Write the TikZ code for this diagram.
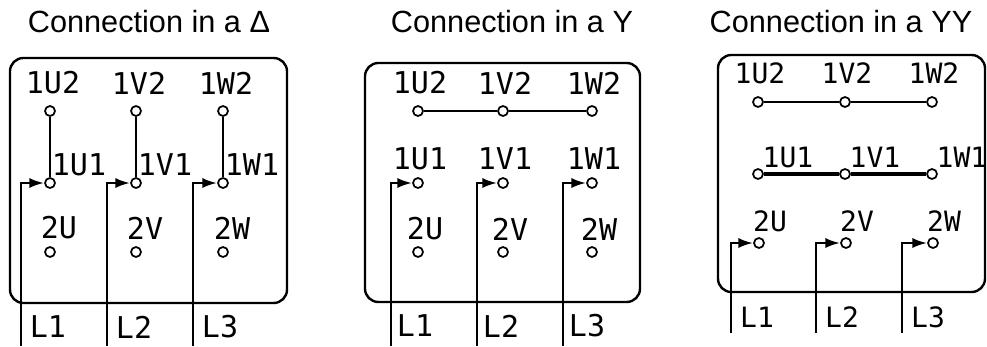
\documentclass[tikz,border=0pt]{standalone}
\usepackage{fontspec}
\setmainfont{Liberation Sans}
\newfontfamily\techfont{DejaVu Sans Mono}
\usetikzlibrary{arrows.meta}
\begin{document}
\begin{tikzpicture}[x=0.75pt,y=-0.75pt,
  term/.style={circle,draw,line width=1.3pt,fill=white,inner sep=0pt,minimum size=7.5pt},
  lbl/.style={font=\techfont\fontsize{22.5}{22.5}\selectfont,inner sep=0pt},
  lblsm/.style={font=\techfont\fontsize{21}{21}\selectfont,inner sep=0pt},
  ttl/.style={font=\fontsize{23}{23}\selectfont,inner sep=0pt},
  wire/.style={line width=1.8pt},
  thinwire/.style={line width=1.2pt},
  thickwire/.style={line width=2.8pt},
  feed/.style={line width=1.8pt,-{Latex[length=11pt,width=7.5pt]}},
  box/.style={draw,line width=1.8pt,rounded corners=10pt}]
\useasboundingbox (0,0) rectangle (987,346);

% titles
\node[ttl] (t1) at (149,22) {Connection in a Δ};
\node[ttl] (t2) at (512,22) {Connection in a Y};
\node[ttl] (t3) at (841,22) {Connection in a YY};

% panel 1: delta
\draw[box] (10,58) rectangle (287,303);
\foreach \i/\cx/\lx/\ph in {1/50/21/U,2/136/107/V,3/223/193/W} {
  \node[lbl] (aT\i) at (\cx+3,83) {1\ph2};
  \node[term] (at\i) at (\cx,111) {};
  \node[term] (am\i) at (\cx,183) {};
  \node[lbl] (aM\i) at (\cx+29,165) {1\ph1};
  \node[lbl] (aB\i) at (\cx+9,228) {2\ph};
  \node[term] (ab\i) at (\cx,252) {};
  \node[lbl] (aL\i) at (\lx+27,327) {L\i};
  \coordinate (ae\i) at (\lx,346);
  \draw[wire] (at\i) -- (am\i);
  \draw[feed] (ae\i) |- (am\i);
}

% panel 2: Y
\draw[box] (365,63) rectangle (640,302);
\foreach \i/\cx/\lx/\ph in {1/418/391/U,2/503/477/V,3/592/563/W} {
  \node[lbl] (bT\i) at (\cx+2,83) {1\ph2};
  \node[term] (bt\i) at (\cx,111) {};
  \node[lbl] (bM\i) at (\cx+2,159) {1\ph1};
  \node[term] (bm\i) at (\cx,183) {};
  \node[lbl] (bB\i) at (\cx+7,229) {2\ph};
  \node[term] (bb\i) at (\cx,252) {};
  \node[lbl] (bL\i) at (\lx+24,326) {L\i};
  \coordinate (be\i) at (\lx,346);
  \draw[feed] (be\i) |- (bm\i);
}
\draw[wire] (bt1) -- (bt2) -- (bt3);

% panel 3: YY
\draw[box] (718,55) rectangle (985,292);
\foreach \i/\cx/\lx/\ph in {1/758/731/U,2/845/816/V,3/932/902/W} {
  \node[lblsm] (cT\i) at (\cx+2,73) {1\ph2};
  \node[term] (ct\i) at (\cx,102) {};
  \node[lblsm] (cM\i) at (\cx+30,157) {1\ph1};
  \node[term] (cm\i) at (\cx,174) {};
  \node[lblsm] (cB\i) at (\cx+12,221) {2\ph};
  \node[term] (cb\i) at (\cx+1,243) {};
  \node[lblsm] (cL\i) at (\lx+26,317) {L\i};
  \coordinate (ce\i) at (\lx,333);
  \draw[feed] (ce\i) |- (cb\i);
}
\draw[thinwire] (ct1) -- (ct2) -- (ct3);
\draw[thickwire] (cm1) -- (cm2) -- (cm3);
\end{tikzpicture}
\end{document}
